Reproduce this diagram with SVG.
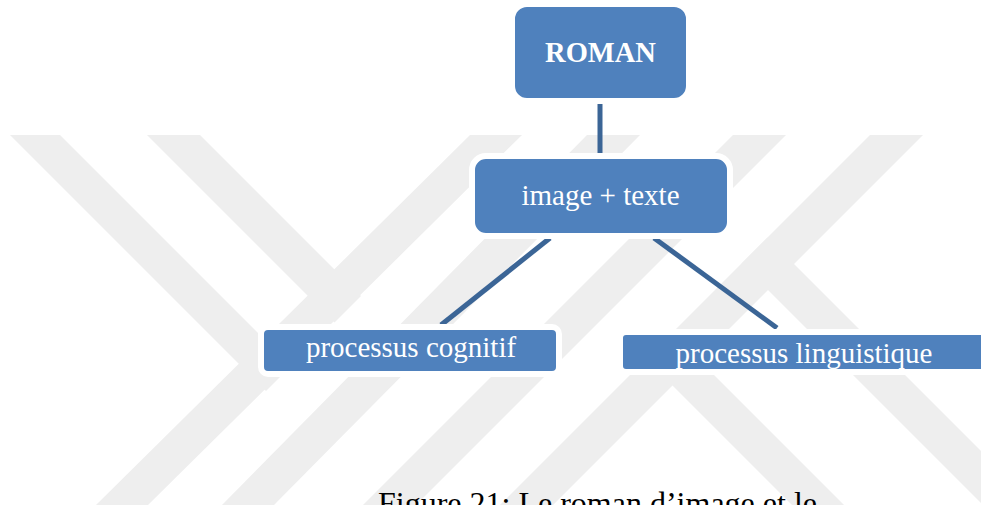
<svg xmlns="http://www.w3.org/2000/svg" width="981" height="505" viewBox="0 0 981 505">
  <style>
    .wm { fill: #eeeeee; }
    .node rect { fill: #4f81bd; stroke: #ffffff; stroke-width: 6; }
    .node text { fill: #ffffff; font-family: "Liberation Serif", "Times New Roman", serif; text-anchor: middle; }
    .conn line { stroke: #3b6596; stroke-width: 5; stroke-linecap: butt; }
    .caption { fill: #000000; font-family: "Liberation Serif", "Times New Roman", serif; font-size: 32px; }
  </style>
  <rect x="0" y="0" width="981" height="505" fill="#ffffff"/>
  <g id="watermark">
    <polygon class="wm" points="470,135 522,135 148,505 96,505"/>
    <polygon class="wm" points="10,135 60,135 291,366 266,391"/>
    <polygon class="wm" points="147,135 200,135 361,296 334.5,322.5"/>
    <polygon class="wm" points="587,135 640,135 274,505 222,505"/>
    <polygon class="wm" points="733,135 786,135 416,505 363,505"/>
    <polygon class="wm" points="870,135 923,135 553,505 500,505"/>
    <polygon class="wm" points="672,333 646,359 792,505 844,505"/>
    <polygon class="wm" points="767.5,237.5 741.5,263.5 983,505 1035,505"/>
  </g>
  <g id="connectors" class="conn">
    <line x1="600" y1="102" x2="600" y2="156"/>
    <line x1="550" y1="238" x2="441" y2="325"/>
    <line x1="654" y1="238" x2="777" y2="328"/>
  </g>
  <g id="node-roman" class="node">
    <rect x="512" y="4" width="177" height="97" rx="15"/>
    <text x="600.5" y="62" font-size="28.5" font-weight="bold">ROMAN</text>
  </g>
  <g id="node-image-texte" class="node">
    <rect x="472" y="156" width="258" height="80" rx="14"/>
    <text x="600.5" y="205" font-size="29">image + texte</text>
  </g>
  <g id="node-cognitif" class="node">
    <rect x="261" y="327" width="298" height="47" rx="7"/>
    <text x="411" y="357" font-size="29">processus cognitif</text>
  </g>
  <g id="node-linguistique" class="node">
    <rect x="620" y="332" width="369" height="40" rx="6"/>
    <text x="804" y="363" font-size="29">processus linguistique</text>
  </g>
  <text class="caption" x="378" y="514">Figure 21: Le roman d’image et le</text>
</svg>
